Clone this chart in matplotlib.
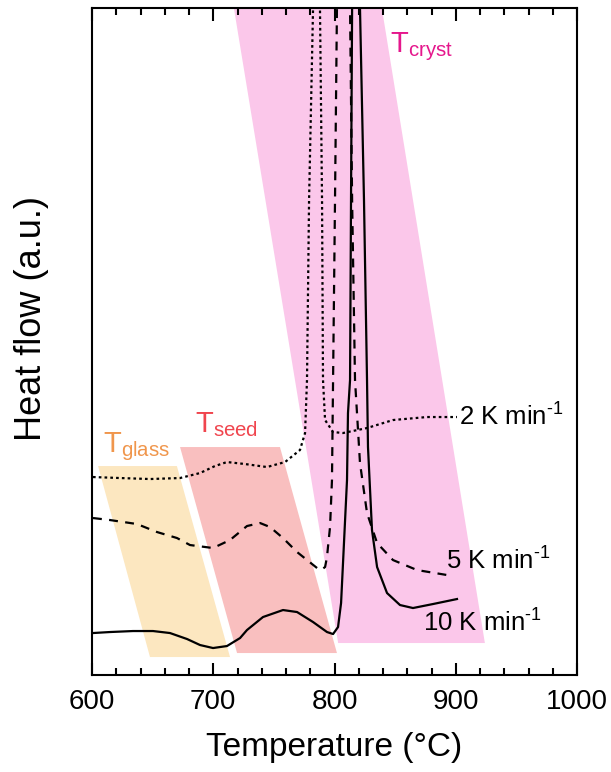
import matplotlib
matplotlib.use("Agg")
import matplotlib.pyplot as plt
from matplotlib.patches import Polygon
from matplotlib.ticker import MultipleLocator

plt.rcParams['font.family'] = ['Liberation Sans', 'DejaVu Sans']
plt.rcParams['mathtext.default'] = 'regular'

# --- DSC traces (temperature in °C, heat flow in a.u.) ---
# peaks run off the top of the plot, apex values are only rough guesses
# 10 K/min (solid)
t_10 = [600.8, 614.8, 633.8, 650.3, 664.3, 678.4, 689.1, 699.8, 711.3, 722.1, 727.8,
        741.0, 757.5, 769.1, 782.3, 793.8, 798.8, 802.9, 805.4, 807.0, 810.3, 811.1,
        812.8, 813.6, 814.5, 817.7, 821.0, 824.3, 826.8, 827.6, 830.9, 835.1, 843.3,
        854.0, 864.7, 881.2, 901.0]
hf_10 = [42, 43, 44, 44, 42, 36, 30, 27, 29, 37, 45,
         58, 65, 63, 53, 43, 41, 48, 72, 112, 195, 262,
         295, 475, 667, 1075, 667, 475, 295, 228, 145, 108, 82,
         70, 67, 71, 76]

# 5 K/min (dashed)
t_5 = [600.8, 614.8, 637.1, 653.6, 670.1, 680.8, 699.8, 713.8, 727.8, 738.6, 746.8,
       757.5, 769.1, 785.6, 788.9, 792.2, 793.8, 794.6, 796.3, 797.9, 798.8, 800.4,
       802.0, 807.4, 812.8, 814.5, 816.9, 821.0, 826.8, 835.1, 848.2, 868.0, 892.8]
hf_5 = [157, 155, 151, 143, 137, 130, 127, 135, 149, 152, 148,
        137, 123, 107, 105, 108, 118, 128, 148, 195, 295, 475,
        667, 1100, 667, 475, 295, 212, 162, 132, 115, 105, 100]

# 2 K/min (dotted)
t_2 = [600.8, 623.1, 647.8, 672.6, 689.1, 701.4, 711.3, 726.2, 744.3, 759.2, 771.5,
       775.7, 777.3, 779.0, 782.3, 785.0, 788.0, 789.7, 790.5, 792.2, 798.8, 807.0,
       826.8, 848.2, 876.3, 901.0]
hf_2 = [198, 197, 196, 197, 202, 209, 213, 211, 208, 213, 225,
        242, 295, 475, 667, 1200, 667, 475, 295, 255, 243, 242,
        247, 255, 258, 258]

# shaded temperature windows (corner temperatures / heights)
glass_t = [605, 670, 713.8, 647.8]
glass_h = [209, 209, 18, 18]
seed_t = [672.6, 755, 802, 719.6]
seed_h = [228, 228, 22, 22]
cryst_t = [717, 839, 924, 803]
cryst_h = [667, 667, 32, 32]

rate_labels = ['2 K min$^{\u20101}$', '5 K min$^{\u20101}$', '10 K min$^{\u20101}$']

fig = plt.figure(figsize=(6.11, 7.72), dpi=100)
ax = fig.add_axes([0.1506, 0.1256, 0.7938, 0.864])

for ts, hs, fc in [(glass_t, glass_h, '#fce7c0'),
                   (seed_t, seed_h, '#f9bfbf'),
                   (cryst_t, cryst_h, '#fbc7ea')]:
    ax.add_patch(Polygon(list(zip(ts, hs)), closed=True, facecolor=fc,
                         edgecolor='none', zorder=0))

ax.plot(t_10, hf_10, color='black', lw=1.6, zorder=3)
ax.plot(t_5, hf_5, color='black', lw=1.6, linestyle=(0, (4, 3.3)), zorder=3)
ax.plot(t_2, hf_2, color='black', lw=1.6, linestyle=(0, (1.2, 1.4)), zorder=3)

# rate labels
ax.text(903, 258, rate_labels[0], fontsize=18.5, va='center', ha='left')
ax.text(892, 114, rate_labels[1], fontsize=18.5, va='center', ha='left')
ax.text(873, 52, rate_labels[2], fontsize=18.5, va='center', ha='left')

# window labels
ax.text(609, 223, r'T$_{glass}$', fontsize=21, color='#f0964c', va='baseline')
ax.text(685, 243, r'T$_{seed}$', fontsize=21, color='#f0454e', va='baseline')
ax.text(846, 623, r'T$_{cryst}$', fontsize=21, color='#e5178c', va='baseline')

ax.set_xlim(600, 1000)
ax.set_ylim(0, 667)
ax.xaxis.set_major_locator(MultipleLocator(100))
ax.xaxis.set_minor_locator(MultipleLocator(20))
ax.set_yticks([])
ax.tick_params(axis='x', which='both', direction='in', top=True, bottom=True,
               width=1.5, labelsize=20, pad=10)
ax.tick_params(axis='x', which='major', length=9)
ax.tick_params(axis='x', which='minor', length=5)
for sp in ax.spines.values():
    sp.set_linewidth(1.5)

ax.set_xlabel('Temperature (°C)', fontsize=24)
ax.set_ylabel('Heat flow (a.u.)', fontsize=26)
ax.xaxis.set_label_coords(0.5, -0.0855)
ax.yaxis.set_label_coords(-0.0895, 0.535)

fig.savefig('out.png', dpi=100)
